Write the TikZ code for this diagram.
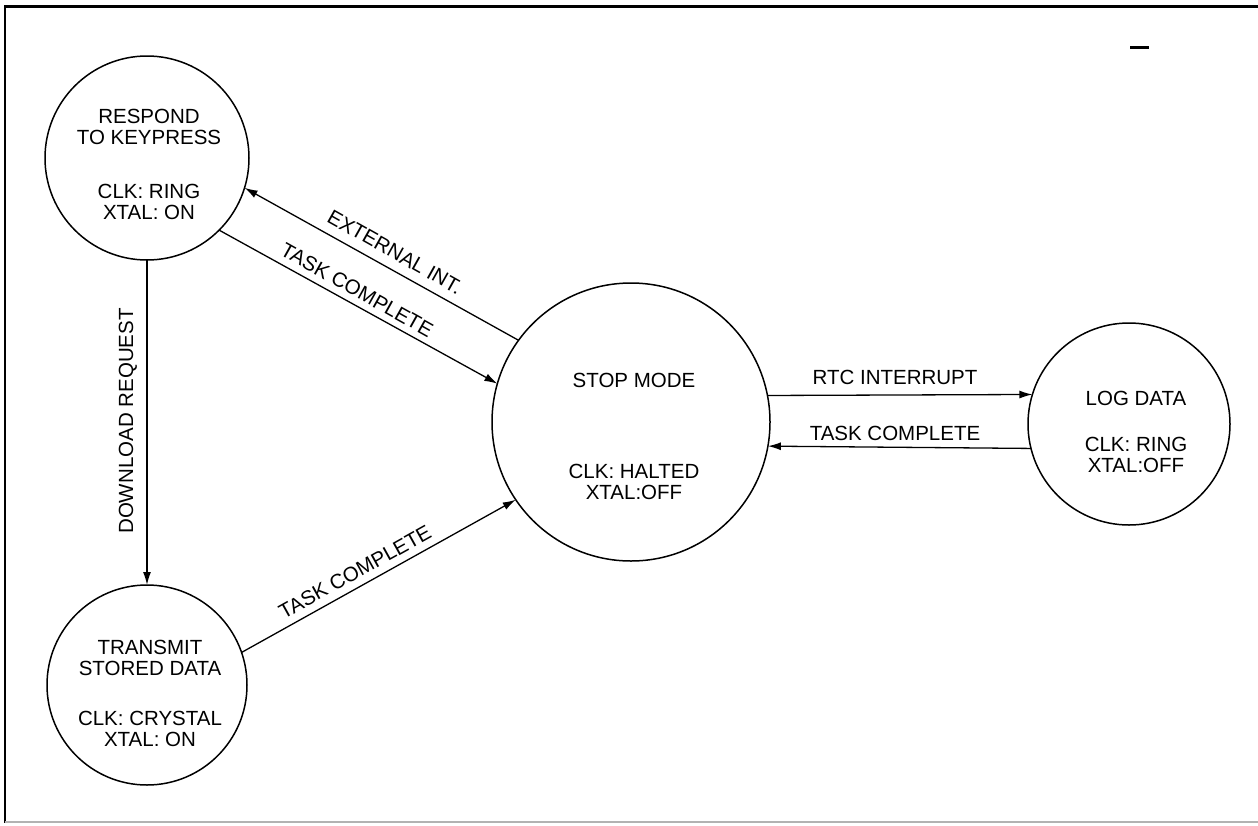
\documentclass[tikz,border=0pt]{standalone}
\usepackage{fontspec}
\setmainfont{Liberation Sans}
\usetikzlibrary{arrows.meta}
\begin{document}
\begin{tikzpicture}[x=1pt,y=-1pt,
  state/.style={circle,draw,line width=1.5pt,inner sep=0pt,outer sep=0pt},
  txt/.style={font=\fontsize{20.5}{20.5}\selectfont,align=center,inner sep=0pt},
  conn/.style={line width=1.3pt,-{Latex[length=13pt,width=8pt]}},
  lbl/.style={font=\fontsize{20.5}{20.5}\selectfont,inner sep=0pt}]
\useasboundingbox (0,0) rectangle (1258,825);
% frame
\draw[line width=3pt] (5,6.5) -- (1258,6.5);
\draw[line width=2pt] (5,5) -- (5,823);
\draw[black!30,line width=1.5pt] (5,822) -- (1258,822);
\draw[line width=3pt] (1130,47) -- (1149,47);
% states
\node[state,minimum size=204pt] (respond) at (147,158) {};
\node[state,minimum size=200pt] (transmit) at (147,685) {};
\node[state,minimum size=278pt] (stop) at (631,422) {};
\node[state,minimum size=202pt] (log) at (1129,424) {};
% state texts
\node[txt] (trespond) at (149,164.5) {RESPOND\\TO KEYPRESS\\[34pt]CLK: RING\\XTAL: ON};
\node[txt] (ttransmit) at (150,693.5) {TRANSMIT\\STORED DATA\\[30pt]CLK: CRYSTAL\\XTAL: ON};
\node[txt] (tstop) at (634,436) {STOP MODE\\[71pt]CLK: HALTED\\XTAL:OFF};
\node[txt] (tlog) at (1136,431.5) {LOG DATA\\[26pt]CLK: RING\\XTAL:OFF};
% connectors
\draw[conn] (stop.144.7) -- (respond.-17);
\draw[conn] (respond.-45.4) -- (stop.164.2);
\draw[conn] (respond.south) -- (transmit.north);
\draw[conn] (transmit.19) -- (stop.-146);
\draw[conn] (stop.11.2) -- (log.163.3);
\draw[conn] (log.-166.3) -- (stop.-10.8);
% labels
\node[lbl,rotate=-29.3] (lext) at (395,252) {EXTERNAL INT.};
\node[lbl,rotate=-29.2] (ltask1) at (357,290) {TASK COMPLETE};
\node[lbl,rotate=29.1] (ltask2) at (355,572) {TASK COMPLETE};
\node[lbl,rotate=90] (ldown) at (128,421) {DOWNLOAD REQUEST};
\node[lbl] (lrtc) at (895,377) {RTC INTERRUPT};
\node[lbl] (ltask3) at (895,433) {TASK COMPLETE};
\end{tikzpicture}
\end{document}
